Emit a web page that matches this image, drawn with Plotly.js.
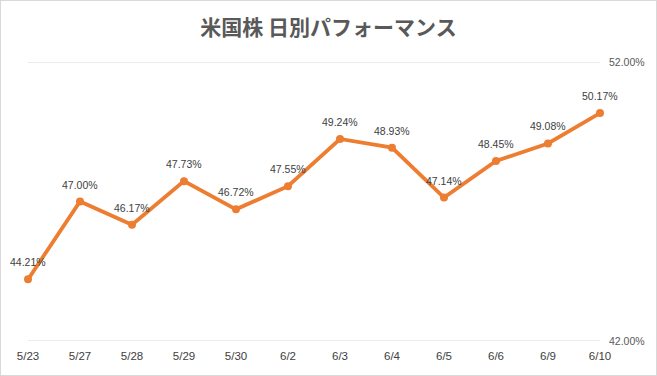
<!DOCTYPE html>
<html><head><meta charset="utf-8">
<script src="https://cdn.plot.ly/plotly-3.0.1.min.js"></script>
<style>html,body{margin:0;padding:0;background:#fff}#c{width:657px;height:376px;box-sizing:border-box;border:1px solid #d9d9d9}</style>
</head><body><div id="c"></div>
<script>
const dates = ["5/23","5/27","5/28","5/29","5/30","6/2","6/3","6/4","6/5","6/6","6/9","6/10"];
const performance = [44.21,47.00,46.17,47.73,46.72,47.55,49.24,48.93,47.14,48.45,49.08,50.17];
const yTicks = [42,52];

const labels = dates.map((d,i)=>({
  x:d, y:performance[i], xref:'x', yref:'y', text:performance[i].toFixed(2)+'%',
  showarrow:false, yshift:17, xanchor:'center', yanchor:'middle',
  font:{family:'Liberation Sans, Arial, sans-serif', size:10.5, color:'#404040'}
}));
const grid = yTicks.map(v=>({type:'line', xref:'paper', x0:0, x1:1, yref:'y', y0:v, y1:v,
  line:{color:'#d9d9d9', width:1}, layer:'below'}));

Plotly.newPlot('c', [{
  type:'scatter', mode:'lines+markers',
  x: dates, y: performance,
  line:{color:'#ED7D31', width:3.8},
  marker:{color:'#ED7D31', size:8},
  cliponaxis:false, hoverinfo:'skip'
}], {
  width:655, height:374,
  margin:{l:27, r:56, t:61, b:34},
  paper_bgcolor:'#fff', plot_bgcolor:'#fff',
  showlegend:false,
  annotations: labels,
  shapes: grid,
  title:{text:'<b>米国株 日別パフォーマンス</b>', x:0.5, xanchor:'center', y:0.93, yanchor:'middle',
    font:{family:'Noto Sans CJK JP, sans-serif', size:21, color:'#595959'}},
  xaxis:{type:'category', range:[0,11], showgrid:false, zeroline:false, showline:false,
    ticks:'', tickfont:{family:'Liberation Sans, Arial, sans-serif', size:11.5, color:'#404040'}, ticklabelstandoff:6},
  yaxis:{side:'right', range:[42,52], tickvals:yTicks, ticktext:yTicks.map(v=>v.toFixed(2)+'%'),
    showgrid:false, zeroline:false, showline:false, ticks:'',
    tickfont:{family:'Liberation Sans, Arial, sans-serif', size:10.5, color:'#595959'}, ticklabelstandoff:8}
}, {staticPlot:true});
</script></body></html>
